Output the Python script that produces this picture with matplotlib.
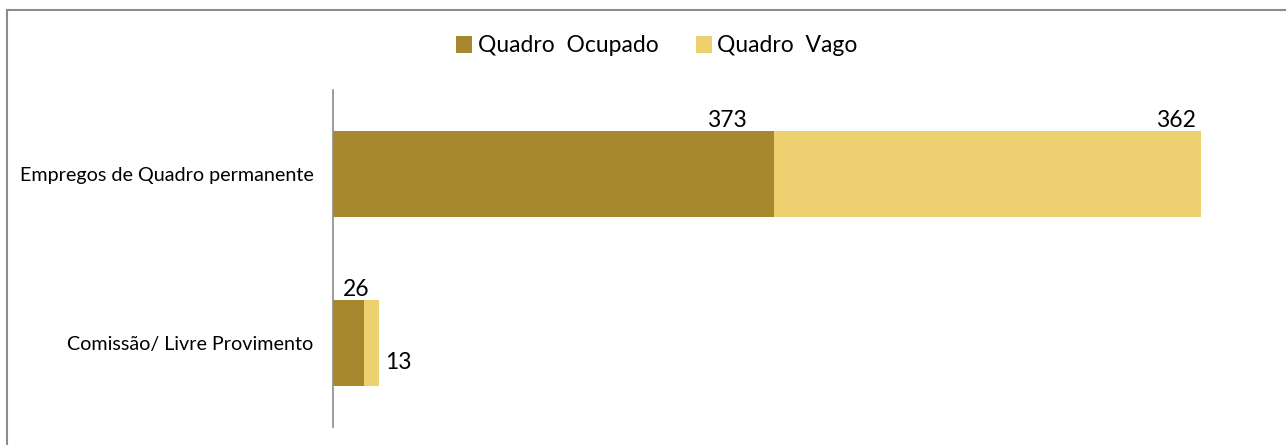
import matplotlib
matplotlib.use("Agg")
import matplotlib.pyplot as plt
from matplotlib.lines import Line2D
from matplotlib.patches import Patch

categories = ["Empregos de Quadro permanente", "Comissão/ Livre Provimento"]
ocupado = [373, 26]
vago = [362, 13]
series_names = ["Quadro  Ocupado", "Quadro  Vago"]
colors = ["#A8882E", "#EDD06F"]

plt.rcParams['font.family'] = ['Lato', 'DejaVu Sans']

W, H = 1286, 445
fig = plt.figure(figsize=(W / 100, H / 100), dpi=100)
ax = fig.add_axes([333 / W, 1 - 427 / H, 945 / W, 337 / H])

ypos = [0, 1]
ax.barh(ypos, ocupado, height=0.51, color=colors[0])
ax.barh(ypos, vago, left=ocupado, height=0.51, color=colors[1])
ax.set_ylim(1.5, -0.5)
ax.set_xlim(0, 800)

ax.set_yticks(ypos)
ax.set_yticklabels(categories, fontsize=14.2)
ax.tick_params(axis='y', length=0, pad=14)
ax.set_xticks([])
for s in ['top', 'right', 'bottom']:
    ax.spines[s].set_visible(False)
ax.spines['left'].set_color('#8C8C8C')
ax.spines['left'].set_linewidth(1.2)

fs = 16.5
# Labels for top bar
ax.annotate(str(ocupado[0]), (ocupado[0], -0.255), xytext=(-19, 0), textcoords='offset points',
            ha='right', va='bottom', fontsize=fs)
ax.annotate(str(vago[0]), (ocupado[0] + vago[0], -0.255), xytext=(-4, 0), textcoords='offset points',
            ha='right', va='bottom', fontsize=fs)
# Labels for bottom bar
ax.annotate(str(ocupado[1]), (ocupado[1], 1 - 0.255), xytext=(4, 0), textcoords='offset points',
            ha='right', va='bottom', fontsize=fs)
ax.annotate(str(vago[1]), (ocupado[1] + vago[1], 1.12), xytext=(4, 0), textcoords='offset points',
            ha='left', va='center', fontsize=fs)

handles = [Patch(facecolor=c, edgecolor='none') for c in colors]
fig.legend(handles, series_names, loc='center', bbox_to_anchor=(657 / W, 1 - 46 / H),
           ncol=2, frameon=False, fontsize=16.5, handlelength=0.7, handleheight=0.7,
           handletextpad=0.25, columnspacing=1.6)

# figure frame (top and left)
fig.add_artist(Line2D([7 / W, 1.0], [1 - 10 / H, 1 - 10 / H], color='#8C8C8C', lw=1.5,
                      transform=fig.transFigure))
fig.add_artist(Line2D([7 / W, 7 / W], [0, 1 - 10 / H], color='#8C8C8C', lw=1.5,
                      transform=fig.transFigure))

fig.savefig("out.png", dpi=100)
